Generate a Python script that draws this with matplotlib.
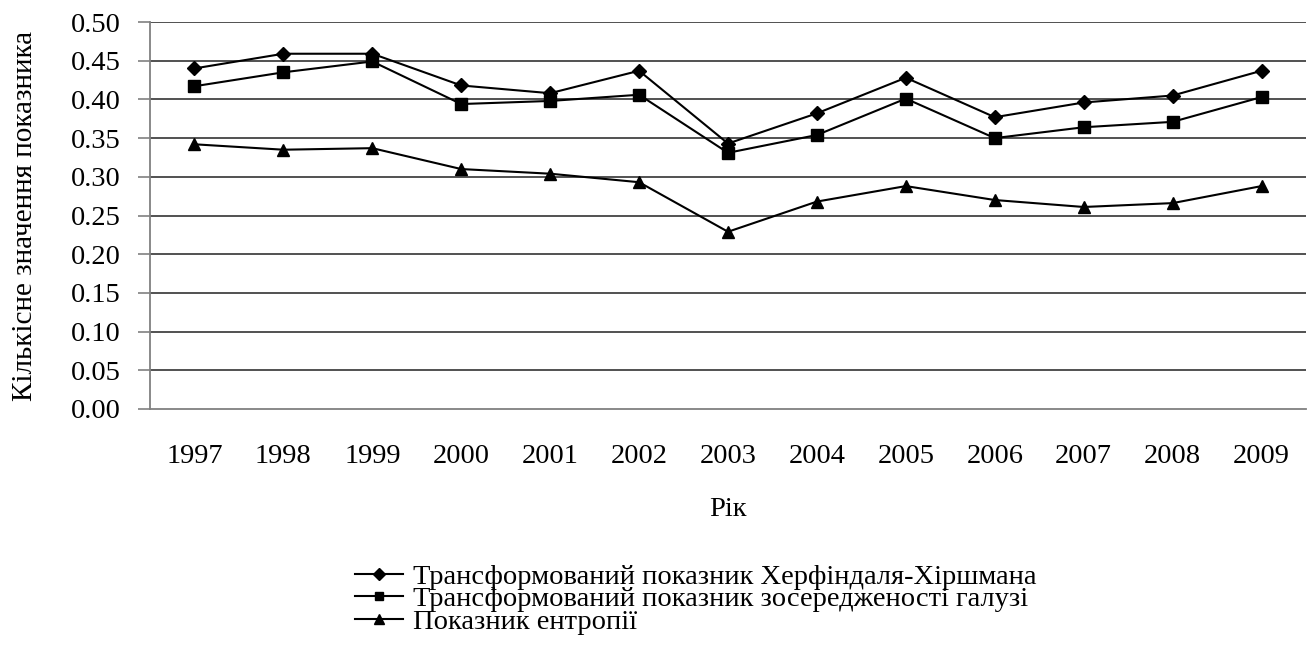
import matplotlib
matplotlib.use('Agg')
import matplotlib.pyplot as plt
from matplotlib import rcParams

rcParams['font.family'] = ['Liberation Serif', 'DejaVu Serif']

years = ['1997', '1998', '1999', '2000', '2001', '2002', '2003',
         '2004', '2005', '2006', '2007', '2008', '2009']
hhi = [0.440, 0.459, 0.459, 0.418, 0.408, 0.437, 0.343,
       0.382, 0.428, 0.377, 0.396, 0.405, 0.437]
conc = [0.417, 0.435, 0.449, 0.394, 0.398, 0.406, 0.331,
        0.354, 0.401, 0.350, 0.364, 0.371, 0.403]
entropy = [0.342, 0.335, 0.337, 0.310, 0.304, 0.293, 0.229,
           0.268, 0.288, 0.270, 0.261, 0.266, 0.288]
labels = ['Трансформований показник Херфіндаля-Хіршмана',
          'Трансформований показник зосередженості галузі',
          'Показник ентропії']
yticks = [0.00, 0.05, 0.10, 0.15, 0.20, 0.25, 0.30, 0.35, 0.40, 0.45, 0.50]

FS = 20.5
GRAY = '#808080'

fig = plt.figure(figsize=(13.14, 6.5), dpi=100)
ax = fig.add_axes([150/1314, 1-409/650, (1306-150)/1314, (409-22)/650])

x = list(range(len(years)))
ax.plot(x, hhi, color='black', lw=1.5, marker='D', ms=7.5, label=labels[0], zorder=5)
ax.plot(x, conc, color='black', lw=1.5, marker='s', ms=8, label=labels[1], zorder=5)
ax.plot(x, entropy, color='black', lw=1.5, marker='^', ms=9, label=labels[2], zorder=5)

ax.set_xlim(-0.5, len(years) - 0.5)
ax.set_ylim(0, 0.5)
ax.set_yticks(yticks)
ax.set_yticklabels(['%.2f' % v for v in yticks], fontsize=FS)
ax.set_xticks(x)
ax.set_xticklabels(years, fontsize=FS)
ax.tick_params(axis='x', length=0, pad=25)
ax.tick_params(axis='y', length=9, width=1.2, color=GRAY, pad=12)

for v in yticks[1:]:
    ax.axhline(v, color='#222222', lw=1.1, zorder=1)

for s in ['top', 'right']:
    ax.spines[s].set_visible(False)
for s in ['left', 'bottom']:
    ax.spines[s].set_color(GRAY)
    ax.spines[s].set_linewidth(1.3)

ax.set_ylabel('Кількісне значення показника', fontsize=21, labelpad=24)
ax.set_xlabel('Рік', fontsize=FS, labelpad=20)

ax.legend(loc='upper left', bbox_to_anchor=(355/1314, 1-564/650),
          bbox_transform=fig.transFigure, frameon=False, fontsize=FS,
          handlelength=1.68, handletextpad=0.35, labelspacing=-0.12,
          markerscale=0.75, borderpad=0, borderaxespad=0)

fig.savefig('out.png', dpi=100)
